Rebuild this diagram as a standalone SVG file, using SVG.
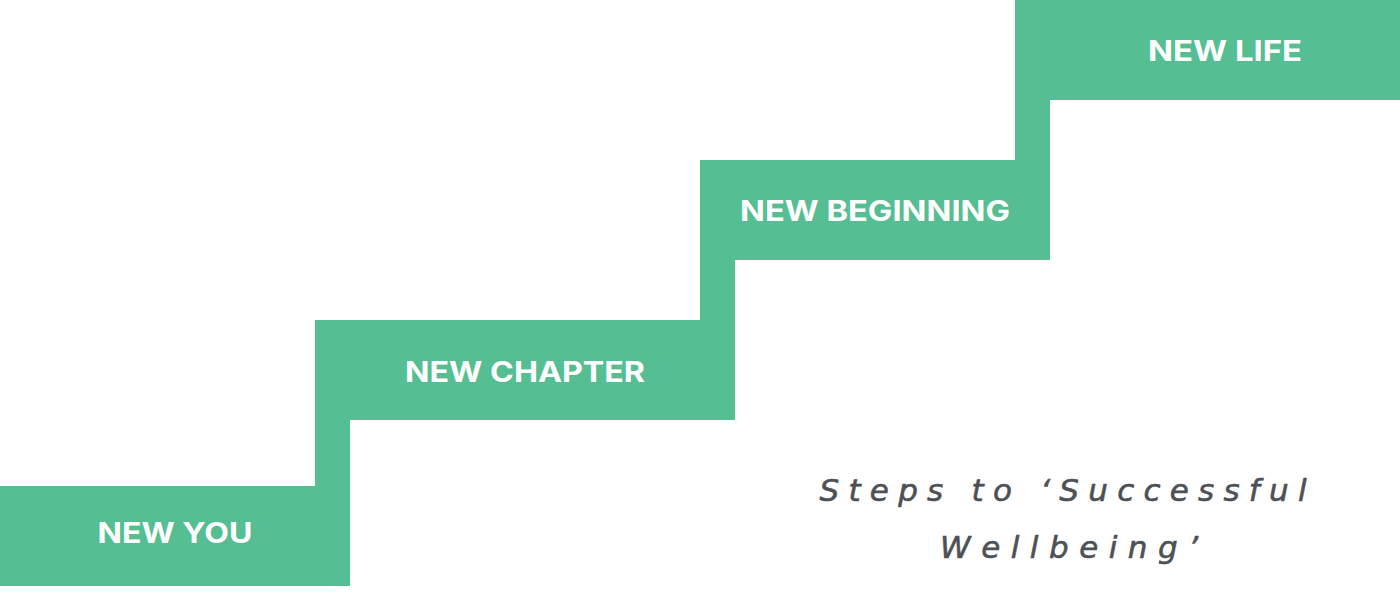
<svg xmlns="http://www.w3.org/2000/svg" width="1400" height="615" viewBox="0 0 1400 615">
<style>
.step{fill:#55BE92}
.lbl{font-family:Inter,"Open Sans","Liberation Sans",sans-serif;font-weight:700;font-size:28px;fill:#FFFFFF;text-anchor:middle}
.sub{font-family:"DejaVu Sans","Liberation Sans",sans-serif;font-style:italic;font-weight:normal;font-size:31px;fill:#4D5055;stroke:#4D5055;stroke-width:0.6;text-anchor:middle}
</style>
<rect width="1400" height="615" fill="#FFFFFF"/>
<g id="step-new-you">
<rect class="step" x="0" y="486" width="350" height="100"/>
<text class="lbl" x="175" y="543" textLength="155" lengthAdjust="spacingAndGlyphs">NEW YOU</text>
</g>
<g id="step-new-chapter">
<rect class="step" x="315" y="320" width="420" height="100"/>
<rect class="step" x="315" y="419" width="35" height="68"/>
<text class="lbl" x="525" y="382" textLength="240" lengthAdjust="spacingAndGlyphs">NEW CHAPTER</text>
</g>
<g id="step-new-beginning">
<rect class="step" x="700" y="160" width="350" height="100"/>
<rect class="step" x="700" y="259" width="35" height="62"/>
<text class="lbl" x="875" y="221" textLength="270" lengthAdjust="spacingAndGlyphs">NEW BEGINNING</text>
</g>
<g id="step-new-life">
<rect class="step" x="1015" y="0" width="385" height="100"/>
<rect class="step" x="1015" y="99" width="35" height="62"/>
<text class="lbl" x="1225" y="61" textLength="154" lengthAdjust="spacingAndGlyphs">NEW LIFE</text>
</g>
<g id="caption">
<text class="sub" x="1063" y="501" textLength="487" lengthAdjust="spacing">Steps to ‘Successful</text>
<text class="sub" x="1069" y="558" textLength="258" lengthAdjust="spacing">Wellbeing’</text>
</g>
<g id="connectors"/>
</svg>
